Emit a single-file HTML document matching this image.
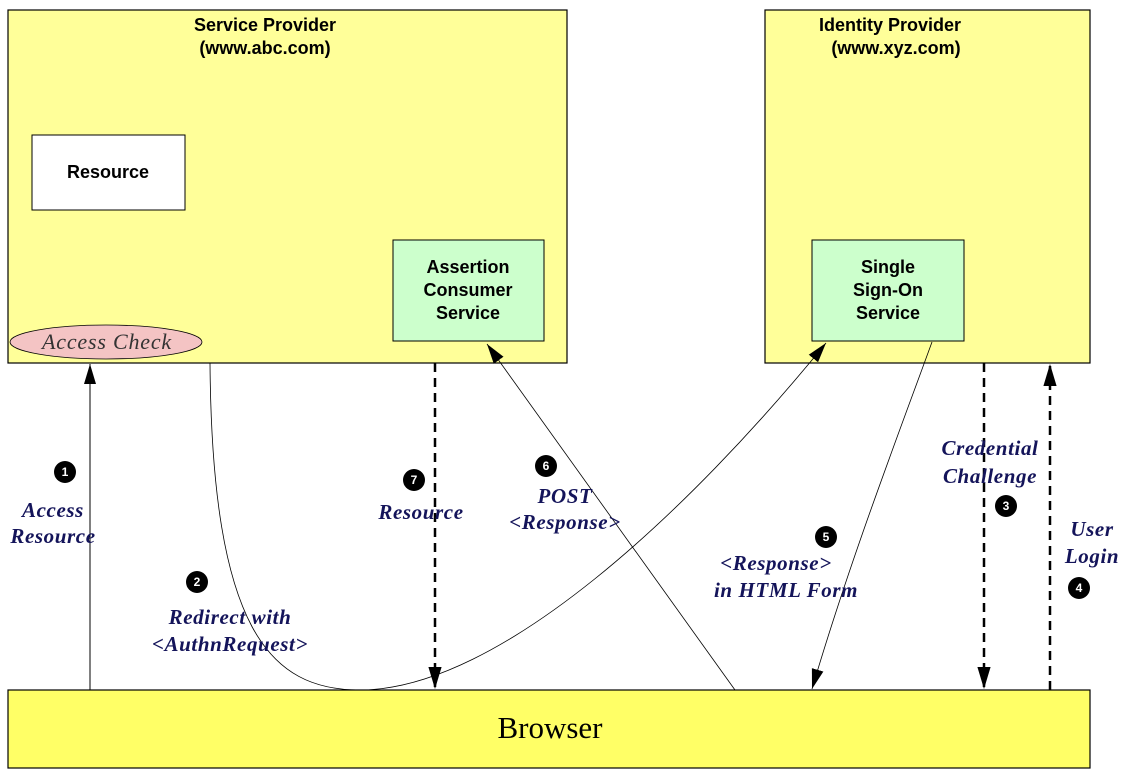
<!DOCTYPE html>
<html><head><meta charset="utf-8"><style>
html,body{margin:0;padding:0;background:#fff;width:1125px;height:774px;overflow:hidden}
svg{display:block}
.h{font-family:"Liberation Sans",sans-serif;font-weight:bold;font-size:18px;fill:#000}
.l{font-family:"Liberation Serif",serif;font-style:italic;font-weight:bold;font-size:21px;letter-spacing:0.6px;fill:#14145a}
.n{font-family:"Liberation Sans",sans-serif;font-weight:bold;font-size:12px;fill:#fff}
</style></head><body>
<svg width="1125" height="774" viewBox="0 0 1125 774">
<defs>
<marker id="a" viewBox="0 0 10 10" refX="10" refY="5" markerWidth="22" markerHeight="22" markerUnits="userSpaceOnUse" orient="auto"><path d="M0,2 L10,5 L0,8 z" fill="#000"/></marker>
<marker id="b" viewBox="0 0 10 10" refX="10" refY="5" markerWidth="20" markerHeight="20" markerUnits="userSpaceOnUse" orient="auto"><path d="M0,2 L10,5 L0,8 z" fill="#000"/></marker>
</defs>
<rect x="8" y="10" width="559" height="353" fill="#ffff99" stroke="#000" stroke-width="1.2"/>
<rect x="765" y="10" width="325" height="353" fill="#ffff99" stroke="#000" stroke-width="1.2"/>
<rect x="8" y="690" width="1082" height="78" fill="#ffff66" stroke="#000" stroke-width="1.2"/>
<text class="h" x="265" y="31" text-anchor="middle">Service Provider</text>
<text class="h" x="265" y="54" text-anchor="middle">(www.abc.com)</text>
<text class="h" x="890" y="31" text-anchor="middle">Identity Provider</text>
<text class="h" x="896" y="54" text-anchor="middle">(www.xyz.com)</text>
<rect x="32" y="135" width="153" height="75" fill="#fff" stroke="#000"/>
<text class="h" x="108" y="178" text-anchor="middle">Resource</text>
<rect x="393" y="240" width="151" height="101" fill="#ccffcc" stroke="#000"/>
<text class="h" x="468" y="273" text-anchor="middle">Assertion</text>
<text class="h" x="468" y="296" text-anchor="middle">Consumer</text>
<text class="h" x="468" y="319" text-anchor="middle">Service</text>
<rect x="812" y="240" width="152" height="101" fill="#ccffcc" stroke="#000"/>
<text class="h" x="888" y="273" text-anchor="middle">Single</text>
<text class="h" x="888" y="296" text-anchor="middle">Sign-On</text>
<text class="h" x="888" y="319" text-anchor="middle">Service</text>
<ellipse cx="106" cy="342" rx="96" ry="17" fill="#f4c4c4" stroke="#000" stroke-width="0.8"/>
<text x="107" y="349" text-anchor="middle" font-family="Liberation Serif,serif" font-style="italic" font-size="22" letter-spacing="0.8" fill="#333">Access Check</text>
<text x="550" y="738" text-anchor="middle" font-family="Liberation Serif,serif" font-size="31" fill="#000">Browser</text>
<line x1="90" y1="690" x2="90" y2="364" stroke="#000" stroke-width="1" marker-end="url(#b)"/>
<path d="M210,363 C212,630 270,690 360,690 C500,690 690,510 826,343" fill="none" stroke="#000" stroke-width="0.8" marker-end="url(#b)"/>
<line x1="435" y1="363" x2="435" y2="689" stroke="#000" stroke-width="2.5" stroke-dasharray="9,6" marker-end="url(#a)"/>
<line x1="735" y1="690" x2="487" y2="344" stroke="#000" stroke-width="0.8" marker-end="url(#b)"/>
<path d="M932,342 C900,430 850,560 812,689" fill="none" stroke="#000" stroke-width="0.8" marker-end="url(#b)"/>
<line x1="984" y1="363" x2="984" y2="689" stroke="#000" stroke-width="2.5" stroke-dasharray="9,6" marker-end="url(#a)"/>
<line x1="1050" y1="690" x2="1050" y2="364" stroke="#000" stroke-width="2.5" stroke-dasharray="9,6" marker-end="url(#a)"/>
<g>
<circle cx="65" cy="472" r="11"/><text class="n" x="65" y="476" text-anchor="middle">1</text>
<circle cx="197" cy="582" r="11"/><text class="n" x="197" y="586" text-anchor="middle">2</text>
<circle cx="1006" cy="506" r="11"/><text class="n" x="1006" y="510" text-anchor="middle">3</text>
<circle cx="1079" cy="588" r="11"/><text class="n" x="1079" y="592" text-anchor="middle">4</text>
<circle cx="826" cy="537" r="11"/><text class="n" x="826" y="541" text-anchor="middle">5</text>
<circle cx="546" cy="466" r="11"/><text class="n" x="546" y="470" text-anchor="middle">6</text>
<circle cx="414" cy="480" r="11"/><text class="n" x="414" y="484" text-anchor="middle">7</text>
</g>
<text class="l" x="53" y="517" text-anchor="middle">Access</text>
<text class="l" x="53" y="543" text-anchor="middle">Resource</text>
<text class="l" x="230" y="624" text-anchor="middle">Redirect with</text>
<text class="l" x="230" y="651" text-anchor="middle">&lt;AuthnRequest&gt;</text>
<text class="l" x="421" y="519" text-anchor="middle">Resource</text>
<text class="l" x="565" y="503" text-anchor="middle">POST</text>
<text class="l" x="565" y="529" text-anchor="middle">&lt;Response&gt;</text>
<text class="l" x="776" y="570" text-anchor="middle">&lt;Response&gt;</text>
<text class="l" x="786" y="597" text-anchor="middle">in  HTML Form</text>
<text class="l" x="990" y="455" text-anchor="middle">Credential</text>
<text class="l" x="990" y="483" text-anchor="middle">Challenge</text>
<text class="l" x="1092" y="536" text-anchor="middle">User</text>
<text class="l" x="1092" y="563" text-anchor="middle">Login</text>
</svg>
</body></html>
